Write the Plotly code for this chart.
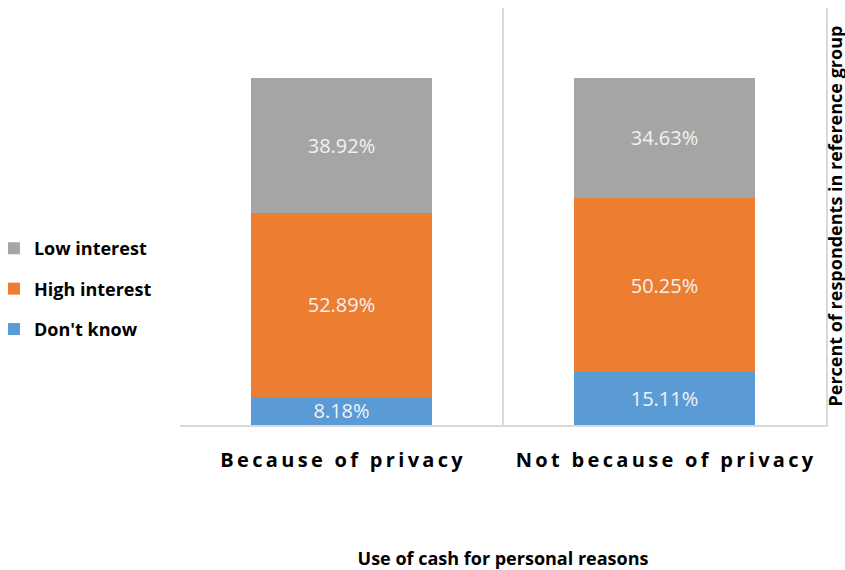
import plotly.graph_objects as go

categories = ["Because of privacy", "Not because of privacy"]
dont_know = [8.18, 15.11]
high_interest = [52.89, 50.25]
low_interest = [38.92, 34.63]

# (name, values, colour, legend rank)
series = [
    ("Don't know", dont_know, "#5B9BD5", 3),
    ("High interest", high_interest, "#ED7D31", 2),
    ("Low interest", low_interest, "#A5A5A5", 1),
]


def spaced(label):
    # widen the category labels with thin spaces between letters
    return "\u2009".join(label)


tick_text = [spaced(c) for c in categories]

fig = go.Figure()
for name, vals, color, rank in series:
    fig.add_trace(go.Bar(
        x=categories,
        y=vals,
        name=name,
        legendgroup=name,
        legendrank=rank,
        marker=dict(color=color, line=dict(width=0)),
        text=vals,
        texttemplate="%{y:.2f}%",
        textposition="inside",
        insidetextanchor="middle",
        constraintext="none",
        textfont=dict(family="Open Sans", size=20, color="#F2F2F2"),
        width=0.56,
    ))

fig.update_layout(
    width=845,
    height=570,
    barmode="stack",
    plot_bgcolor="white",
    paper_bgcolor="white",
    margin=dict(l=180, r=19, t=8, b=145, autoexpand=False),
    font=dict(family="Open Sans", color="black"),
    legend=dict(
        x=-0.288, xanchor="left",
        y=0.326, yanchor="middle",
        traceorder="grouped",
        tracegroupgap=14,
        font=dict(family="Open Sans", size=18, color="black", weight="bold"),
        itemwidth=30,
    ),
    xaxis=dict(
        tickmode="array",
        tickvals=categories,
        ticktext=tick_text,
        tickangle=0,
        tickfont=dict(family="Open Sans", size=20, color="black", weight="bold"),
        ticks="",
        ticklabelstandoff=16,
        tickson="boundaries",
        showgrid=True,
        gridcolor="#D9D9D9",
        gridwidth=1.5,
        showline=True,
        linecolor="#D9D9D9",
        linewidth=1.5,
        range=[-0.5, 1.5],
        automargin=False,
        title=dict(
            text="Use of cash for personal reasons",
            font=dict(family="Open Sans", size=18, color="black", weight="bold"),
            standoff=97,
        ),
    ),
    yaxis=dict(
        range=[0, 120],
        side="right",
        showticklabels=False,
        showgrid=False,
        zeroline=False,
        showline=True,
        linecolor="#D9D9D9",
        linewidth=1.5,
        ticks="",
        automargin=False,
    ),
    annotations=[dict(
        text="Percent of respondents in reference group",
        textangle=-90,
        xref="paper", yref="paper",
        x=(834 - 180) / 646, y=0.5,
        xanchor="center", yanchor="middle",
        showarrow=False,
        font=dict(family="Open Sans", size=18, color="black", weight="bold"),
    )],
)

fig.write_html("out.html")
